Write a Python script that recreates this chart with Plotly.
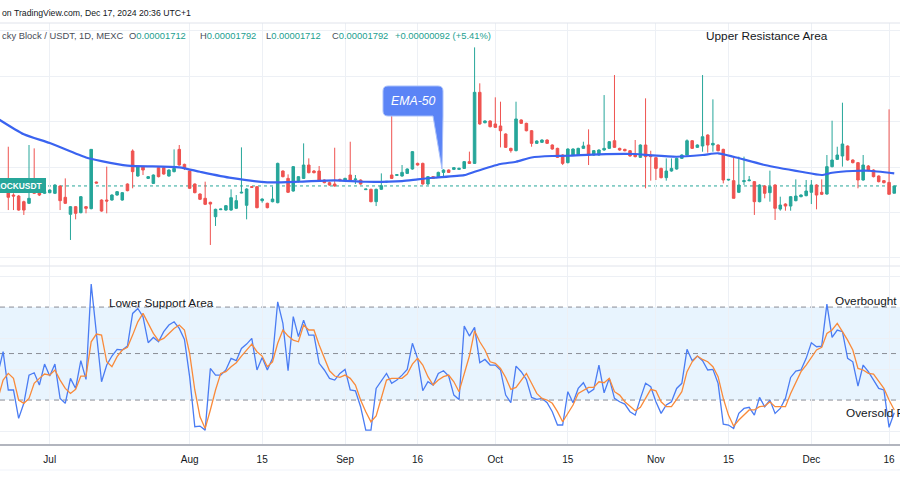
import plotly.graph_objects as go

# ---------------- data (prices in units of 1e-6 USDT) ----------------
opens = [17.29,16.92,16.81,16.19,16.01,17.40,17.29,17.11,17.18,17.11,17.91,16.67,14.80,15.64,14.98,15.64,15.42,18.35,16.37,16.37,
         16.37,16.92,16.37,18.13,21.76,19.01,20.04,18.75,18.20,19.93,19.93,19.01,19.49,21.94,20.29,19.56,18.13,17.03,16.56,16.12,
         14.54,15.31,15.27,15.27,15.46,17.14,15.79,17.84,17.84,16.30,16.01,16.19,16.08,19.56,18.75,17.36,18.39,18.75,20.22,19.56,
         19.56,18.57,18.28,18.13,18.64,18.57,19.12,18.61,18.57,17.51,17.55,16.19,17.55,18.35,19.12,19.08,19.01,19.30,19.78,20.40,
         20.40,18.13,18.94,18.94,19.41,19.67,19.74,19.74,19.85,20.59,20.40,28.21,24.87,25.06,24.73,24.51,23.63,22.05,21.80,25.17,
         24.80,23.99,22.60,22.71,22.97,22.42,22.05,21.32,20.48,21.32,21.32,22.05,22.42,21.32,21.32,21.87,22.05,22.89,22.05,21.94,
         21.79,21.32,21.06,22.42,21.32,21.03,19.85,18.83,19.56,19.78,20.95,21.32,22.89,22.16,22.31,23.52,22.42,22.42,21.94,18.57,
         18.50,17.22,18.39,18.50,18.39,16.19,17.91,17.18,18.02,15.38,15.93,15.71,16.30,16.74,16.85,17.22,18.02,17.22,17.03,20.04,
         20.84,21.21,22.31,20.77,20.48,18.57,20.11,19.67,19.01,18.50,18.31,17.12]
highs = [22.23,17.11,16.92,16.30,22.42,22.05,17.47,17.40,17.55,18.10,17.99,18.75,15.71,15.71,16.81,15.71,21.96,18.39,16.45,20.04,
         17.00,17.36,17.25,18.20,21.94,20.11,20.11,19.01,19.19,20.00,20.00,19.74,21.94,22.42,20.37,19.63,18.20,17.11,18.39,16.19,
         15.42,15.42,15.82,17.55,16.92,22.16,17.66,17.91,17.91,16.56,16.08,17.84,20.48,19.63,19.19,20.11,19.01,22.60,20.95,19.67,
         20.11,18.64,18.39,22.12,18.72,18.82,22.78,19.12,18.64,17.58,17.62,17.62,19.30,18.42,26.08,19.16,20.22,19.85,21.76,20.48,
         20.48,19.01,19.01,19.49,19.74,19.74,20.00,19.93,20.66,21.69,33.15,29.20,25.13,25.13,27.66,27.18,23.70,22.12,27.18,25.24,
         24.87,24.07,22.93,23.04,23.04,22.49,22.12,21.39,22.05,22.05,22.12,22.78,24.14,21.87,21.94,27.91,22.86,30.11,22.12,22.01,
         21.87,22.97,22.49,27.55,21.79,21.10,19.93,20.95,20.95,21.03,21.39,23.04,22.97,22.49,30.11,23.59,27.44,22.49,22.01,18.68,
         21.21,21.14,21.14,19.01,18.46,18.10,17.99,19.60,18.10,16.74,16.01,16.81,18.64,17.00,18.57,18.57,18.10,18.64,21.32,25.09,
         22.23,27.07,22.38,20.84,20.55,21.32,20.22,19.74,19.08,18.57,26.34,17.92]
lows = [15.27,15.27,15.20,14.73,15.93,17.03,16.81,17.03,17.11,17.03,15.27,15.93,11.98,14.25,14.91,14.91,15.35,18.20,15.09,14.91,
        16.30,16.85,16.30,17.33,17.66,18.94,19.12,18.68,18.13,18.86,19.16,18.94,19.41,20.15,19.67,17.58,17.11,16.37,15.82,11.43,
        13.52,15.27,15.20,15.20,15.38,17.11,14.25,17.69,15.46,16.08,15.46,16.12,16.01,18.86,17.14,17.29,18.31,18.68,19.30,19.30,
        18.50,18.21,17.95,17.84,18.42,18.50,18.50,18.13,18.06,17.47,16.12,15.71,17.47,18.28,18.68,19.01,18.94,19.23,19.71,20.15,
        18.06,18.02,18.68,18.86,18.94,19.34,19.67,19.67,19.78,20.33,20.33,24.65,24.80,24.36,24.29,22.16,22.09,21.58,21.72,24.73,
        23.92,22.23,22.53,22.64,22.53,21.91,20.99,20.22,20.40,21.25,21.25,21.98,20.22,21.25,21.25,21.79,21.98,22.09,21.79,21.72,
        21.14,21.06,20.99,17.66,18.50,18.57,18.75,18.50,19.49,19.71,20.88,21.25,21.98,22.09,21.68,21.58,21.68,21.72,18.20,18.50,
        16.56,17.14,18.02,18.42,14.73,16.12,16.56,16.19,14.18,15.20,15.20,15.20,16.23,16.67,16.78,15.93,15.35,16.92,16.96,19.96,
        20.77,20.04,20.70,20.40,17.66,18.50,19.52,18.86,18.31,18.20,17.00,17.12]
closes = [16.67,16.81,15.27,15.27,16.56,17.11,16.92,17.29,17.47,18.02,16.30,16.01,15.64,14.91,16.74,15.46,21.94,18.24,15.16,16.26,
          16.92,17.29,17.18,17.40,19.49,20.04,19.67,18.94,19.12,18.94,19.23,19.67,19.85,20.22,19.85,17.66,17.18,16.45,15.90,15.93,
          15.35,15.38,15.75,16.63,16.30,17.22,17.58,17.77,15.53,16.48,15.53,16.48,20.40,18.94,17.22,20.04,18.94,20.22,19.38,19.38,
          18.57,18.28,18.02,17.91,18.50,18.75,18.57,18.68,18.13,17.58,16.19,17.55,17.95,18.42,18.75,19.16,19.41,19.78,21.69,20.22,
          18.13,18.94,18.75,19.41,19.67,19.41,19.93,19.85,20.59,20.40,28.21,24.73,25.06,24.43,24.36,23.99,22.16,21.80,25.28,24.80,
          23.99,22.60,22.86,22.97,22.60,21.98,21.06,20.40,21.98,21.98,22.05,22.31,21.32,21.80,21.87,22.05,22.78,22.16,21.87,21.79,
          21.21,21.14,22.42,21.14,21.14,19.85,18.83,19.56,19.85,20.95,21.32,22.89,22.05,22.42,23.33,22.42,22.60,21.79,18.57,18.64,
          16.56,18.02,18.50,18.57,16.19,18.02,17.11,17.84,15.46,15.82,15.71,16.74,16.81,16.92,17.36,18.02,16.92,17.00,20.04,20.77,
          21.32,22.53,20.77,20.48,18.57,20.22,19.60,18.94,18.39,18.28,17.00,17.92]
bar_idx = list(range(len(closes)))

ema_idx = [-2, 3, 8, 15, 18, 23, 33, 37, 43, 50, 56, 63, 69, 76, 79, 82, 88, 90, 95, 98, 101, 105, 108,
           114, 121, 124, 129, 134, 137, 140, 146, 153, 157, 159, 163, 166, 171]
ema_vals = [25.3, 23.6, 22.64, 21.05, 20.65, 20.15, 19.97, 19.48, 18.8, 18.32, 18.38, 18.54, 18.38, 18.46, 18.65,
            18.82, 19.10, 19.48, 20.33, 20.58, 21.05, 21.21, 21.24, 21.40, 21.43, 21.29, 21.13, 21.32, 21.51, 21.13,
            20.22, 19.48, 19.12, 19.37, 19.56, 19.59, 19.31]

stoch_idx = list(range(-2, 172))
stoch_k = [37.2,51.2,26.5,26.5,8.2,17.9,36.1,37.6,29.7,43.2,35.5,43.2,21.1,17.9,34.0,27.5,45.4,33.3,94.8,60.9,
           31.8,42.6,48.4,52.7,52.3,54.8,75.9,79.1,73.8,57.0,60.4,57.6,64.1,68.4,70.5,66.2,59.1,35.1,2.8,3.2,
           0.6,40.4,36.1,36.1,39.4,46.9,45.4,53.3,56.1,59.8,39.4,47.5,39.4,46.9,83.4,69.5,38.9,73.8,60.9,71.6,
           61.9,61.9,43.7,39.4,34.0,32.9,37.2,39.8,26.5,26.0,15.7,0.6,0.6,27.5,32.5,37.2,30.8,32.9,36.1,39.8,
           56.6,46.9,26.0,31.8,29.7,37.2,38.9,35.5,23.2,20.4,67.7,61.3,66.9,44.1,46.2,42.6,42.6,39.4,23.2,18.3,
           41.9,38.3,33.3,21.7,20.4,21.1,18.3,12.5,3.9,3.9,25.4,18.3,27.5,31.2,24.7,26.9,42.6,24.7,34.0,21.1,
           18.9,17.4,12.5,10.3,21.1,30.8,28.6,18.9,11.4,16.8,18.9,27.5,30.8,52.7,45.4,48.4,45.4,39.4,39.8,30.8,
           4.5,3.9,1.7,11.4,14.6,15.3,10.3,21.7,15.7,20.0,11.4,14.6,21.1,34.6,38.7,39.4,46.9,57.0,54.4,54.8,
           81.9,60.4,65.2,64.1,46.9,44.7,29.0,42.6,38.3,32.9,27.5,26.5,2.4,11.8]
stoch_d = [21.1,32.9,37.2,34.0,20.0,17.9,21.1,30.8,34.0,36.8,36.1,39.4,32.9,27.5,24.3,26.9,35.5,35.5,57.6,62.6,
           61.9,44.7,41.5,48.0,52.3,54.0,61.9,70.5,75.9,69.5,63.0,58.3,59.8,63.0,66.2,68.4,65.2,50.1,26.5,9.2,
           1.7,13.6,26.5,37.2,38.3,41.5,44.1,48.4,52.3,56.1,51.2,48.4,41.5,44.7,56.6,65.2,61.3,58.7,57.6,68.4,
           65.2,65.2,55.5,46.9,38.9,35.5,34.6,36.1,34.0,29.7,20.0,12.5,6.0,9.7,21.1,32.9,34.0,34.0,34.0,36.8,
           43.2,46.9,42.6,35.1,29.7,32.9,35.1,36.1,31.8,25.4,36.1,48.4,64.7,57.6,52.3,44.7,43.7,40.4,34.6,26.9,
           28.2,32.9,37.2,30.8,24.3,21.1,20.0,17.9,12.5,6.0,11.0,16.8,24.3,26.0,28.2,28.2,31.8,31.2,34.0,25.4,
           23.2,18.9,16.1,13.1,15.3,21.1,26.9,26.0,18.9,15.7,15.7,20.4,25.4,38.3,44.7,48.4,46.2,44.7,41.5,35.1,
           21.1,10.3,3.2,7.1,10.3,13.6,13.6,15.7,16.1,18.9,15.7,15.7,15.7,24.3,31.8,38.3,42.6,47.5,52.3,54.0,
           63.0,65.2,69.5,64.1,58.7,52.3,40.4,39.4,37.2,36.8,31.8,27.5,20.0,13.6]

last_price = 17.92
tick_idx = [8, 35, 49, 65, 79, 94, 108, 125, 139, 155, 170]
tick_text = ["Jul", "Aug", "15", "Sep", "16", "Oct", "15", "Nov", "15", "Dec", "16"]
price_grid = [10, 15, 20, 25, 30, 35]
osc_grid = [0, 40, 60, 100]
osc_levels = [20, 50, 80]

# ---------------- style ----------------
W, H = 900, 500
UP, DN = "#26a69a", "#ef5350"
GRID = "#edf0f5"
FONT = "Liberation Sans, Arial, sans-serif"
TXT = "#131722"


def px(x, y):
    return x / W, 1 - y / H


fig = go.Figure()
fig.add_trace(go.Candlestick(
    x=bar_idx, open=opens, high=highs, low=lows, close=closes,
    increasing=dict(line=dict(color=UP, width=1), fillcolor=UP),
    decreasing=dict(line=dict(color=DN, width=1), fillcolor=DN),
    whiskerwidth=0, xaxis="x", yaxis="y", hoverinfo="skip", showlegend=False))
fig.add_trace(go.Scatter(x=ema_idx, y=ema_vals, mode="lines",
                         line=dict(color="#3a63f0", width=2.2, shape="spline", smoothing=0.6),
                         xaxis="x", yaxis="y", hoverinfo="skip", showlegend=False))
fig.add_trace(go.Scatter(x=stoch_idx, y=stoch_k, mode="lines",
                         line=dict(color="#4a7cf3", width=1.3),
                         xaxis="x2", yaxis="y2", hoverinfo="skip", showlegend=False))
fig.add_trace(go.Scatter(x=stoch_idx, y=stoch_d, mode="lines",
                         line=dict(color="#f98a3a", width=1.3),
                         xaxis="x2", yaxis="y2", hoverinfo="skip", showlegend=False))

xr = [-1.60, 172.11]
top_main, bot_main, bot_osc = 1 - 23 / H, 1 - 266 / H, 1 - 445 / H

fig.update_layout(
    width=W, height=H, margin=dict(l=0, r=0, t=0, b=0),
    paper_bgcolor="white", plot_bgcolor="white",
    font=dict(family=FONT, color=TXT),
    xaxis=dict(domain=[0, 1], range=xr, anchor="y", tickvals=tick_idx, ticktext=tick_text,
               showticklabels=False, showgrid=True, gridcolor=GRID, zeroline=False,
               rangeslider=dict(visible=False), fixedrange=True),
    yaxis=dict(domain=[bot_main, top_main], range=[9.12, 35.83], tickvals=price_grid,
               showticklabels=False, showgrid=True, gridcolor=GRID, zeroline=False),
    xaxis2=dict(domain=[0, 1], range=xr, anchor="y2", tickvals=tick_idx, ticktext=tick_text,
                showgrid=True, gridcolor=GRID, zeroline=False, ticks="outside", ticklen=5,
                tickcolor="rgba(0,0,0,0)", tickfont=dict(size=10, color=TXT, family=FONT)),
    yaxis2=dict(domain=[bot_osc, bot_main], range=[-9.0, 106.5], tickvals=osc_grid,
                showticklabels=False, showgrid=True, gridcolor=GRID, zeroline=False),
)

shapes = []
shapes.append(dict(type="rect", xref="paper", yref="y2", x0=0, x1=1, y0=20, y1=80,
                   fillcolor="rgba(33,150,243,0.10)", line=dict(width=0), layer="below"))
for lv in osc_levels:
    shapes.append(dict(type="line", xref="paper", yref="y2", x0=0, x1=1, y0=lv, y1=lv,
                       line=dict(color="#8a8d96", width=1, dash="5px,4px"), layer="below"))
shapes.append(dict(type="line", xref="paper", yref="y", x0=0, x1=1, y0=last_price, y1=last_price,
                   line=dict(color=UP, width=1, dash="dot"), layer="below"))
for yy, col, wd in [(23, "#e0e3eb", 1), (266, "#e0e3eb", 1), (445, "#b2b5be", 2), (470, "#f0f3fa", 1)]:
    shapes.append(dict(type="line", xref="paper", yref="paper", x0=0, x1=1,
                       y0=1 - yy / H, y1=1 - yy / H, line=dict(color=col, width=wd)))
x0, y0 = px(0, 193)
x1, y1 = px(46, 178)
shapes.append(dict(type="rect", xref="paper", yref="paper", x0=x0, x1=x1, y0=y0, y1=y1,
                   fillcolor=UP, line=dict(width=0)))
pts = [("M", 388, 86), ("L", 438, 86), ("Q", 443, 86, 443, 91), ("L", 443, 116), ("L", 442, 169),
       ("L", 433, 116), ("L", 388, 116), ("Q", 383, 116, 383, 111), ("L", 383, 91), ("Q", 383, 86, 388, 86)]
path = ""
for p in pts:
    cmd, coords = p[0], p[1:]
    vals = []
    for k in range(0, len(coords), 2):
        a, b = px(coords[k], coords[k + 1])
        vals.append(f"{a:.5f},{b:.5f}")
    path += cmd + " " + " ".join(vals) + " "
path += "Z"
shapes.append(dict(type="path", xref="paper", yref="paper", path=path,
                   fillcolor="#5b84f6", line=dict(color="#a9c0fb", width=1)))
fig.update_layout(shapes=shapes)

ann = []


def add_text(text, x, y, size, color=TXT, xanchor="left", **kw):
    ax, ay = px(x, y)
    ann.append(dict(text=text, x=ax, y=ay, xref="paper", yref="paper", showarrow=False,
                    xanchor=xanchor, yanchor="middle", font=dict(size=size, color=color, family=FONT), **kw))


add_text("on TradingView.com, Dec 17, 2024 20:36 UTC+1", 0, 13, 8.7)
add_text("cky Block / USDT, 1D, MEXC", 0, 36, 9.4, color="#4a4e59")
TEAL = "#22a08f"
add_text(f"O<span style='color:{TEAL}'>0.00001712</span>", 127, 36, 9.4, color="#4a4e59")
add_text(f"H<span style='color:{TEAL}'>0.00001792</span>", 198, 36, 9.4, color="#4a4e59")
add_text(f"L<span style='color:{TEAL}'>0.00001712</span>", 264, 36, 9.4, color="#4a4e59")
add_text(f"C<span style='color:{TEAL}'>0.00001792</span>", 330, 36, 9.4, color="#4a4e59")
add_text("+0.00000092 (+5.41%)", 393, 36, 9.4, color=TEAL)
add_text("Upper Resistance Area", 704, 36, 11.8)
add_text("Lower Support Area", 161, 303, 11.8, xanchor="center")
add_text("Overbought", 833, 301, 11.8)
add_text("Oversold Region", 844, 413, 11.8)
add_text("<b>BLOCKUSDT</b>", 44, 185.5, 8.4, color="white", xanchor="right")
add_text("<i>EMA-50</i>", 413, 101, 12.3, color="white", xanchor="center")
fig.update_layout(annotations=ann)

fig.write_html("out.html", config={"displayModeBar": False},
               post_script="document.body.style.margin='0px';document.body.style.overflow='hidden';")
